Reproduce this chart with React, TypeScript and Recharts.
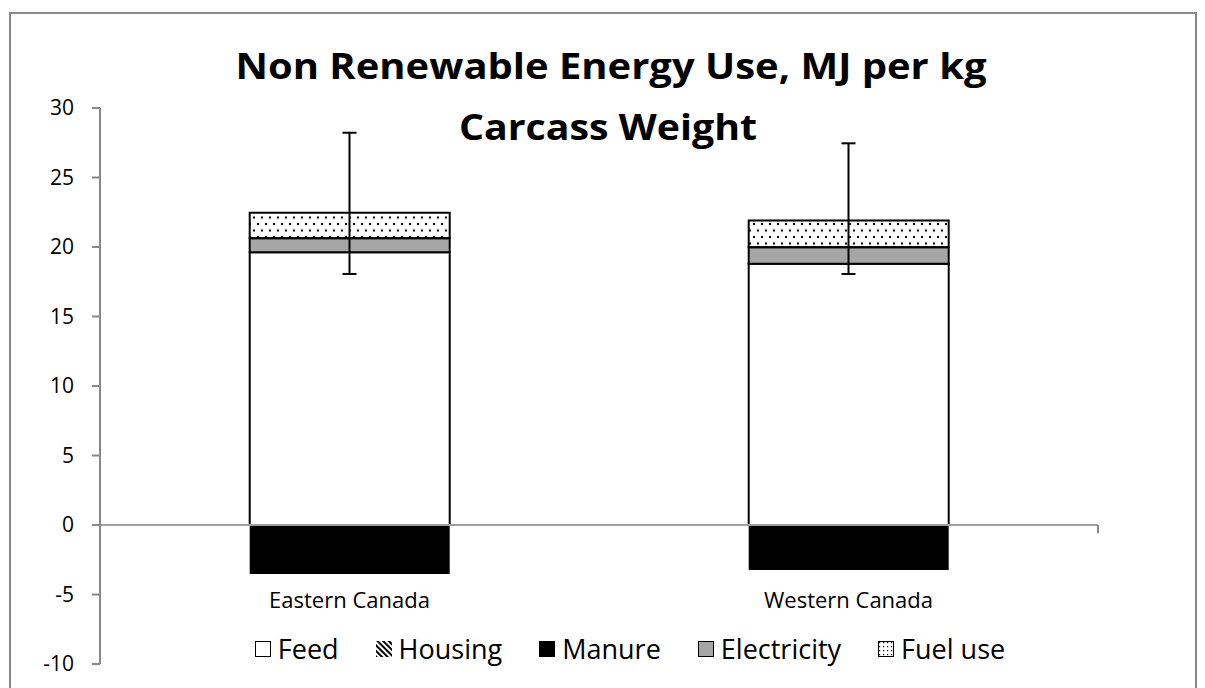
import { ComposedChart, Bar, Line, XAxis, YAxis, ErrorBar, ReferenceLine } from 'recharts';

const categories = ['Eastern Canada', 'Western Canada'];
const feed = [19.62, 18.8];
const housing = [0, 0];
const manure = [-3.53, -3.24];
const electricity = [1.01, 1.18];
const fuelUse = [1.84, 1.92];
const errorLow = [18.06, 18.06];
const errorHigh = [28.22, 27.46];
const yTicks = [-10, -5, 0, 5, 10, 15, 20, 25, 30];
const boundaryTicks = [0, 1, 2];

const data = categories.map((name, i) => {
  const total = feed[i] + housing[i] + electricity[i] + fuelUse[i];
  return {
    name,
    feed: feed[i],
    housing: housing[i],
    manure: manure[i],
    electricity: electricity[i],
    fuelUse: fuelUse[i],
    total,
    err: [total - errorLow[i], errorHigh[i] - total],
  };
});

const legendItems = [
  { label: 'Feed', kind: 'feed' },
  { label: 'Housing', kind: 'housing' },
  { label: 'Manure', kind: 'manure' },
  { label: 'Electricity', kind: 'electricity' },
  { label: 'Fuel use', kind: 'fuel' },
];

const font = '"Open Sans", sans-serif';

function Swatch({ kind }: { kind: string }) {
  const id = 'sw-' + kind;
  return (
    <svg width={16} height={16} style={{ marginRight: 7, flexShrink: 0 }}>
      <defs>
        <pattern id={id + '-dots'} width={4} height={4} patternUnits="userSpaceOnUse">
          <rect x={1} y={1} width={1.2} height={1.2} fill="#000" />
        </pattern>
        <pattern id={id + '-hatch'} width={4} height={4} patternUnits="userSpaceOnUse" patternTransform="rotate(-45)">
          <rect x={0} y={0} width={2} height={4} fill="#000" />
        </pattern>
      </defs>
      {kind === 'feed' && <rect x={0.5} y={0.5} width={15} height={15} fill="#fff" stroke="#000" />}
      {kind === 'housing' && <rect x={0} y={0} width={16} height={16} fill={`url(#${id}-hatch)`} />}
      {kind === 'manure' && <rect x={0} y={0} width={16} height={16} fill="#000" />}
      {kind === 'electricity' && <rect x={0.5} y={0.5} width={15} height={15} fill="#a6a6a6" stroke="#000" />}
      {kind === 'fuel' && <rect x={0.5} y={0.5} width={15} height={15} fill={`url(#${id}-dots)`} stroke="#000" />}
    </svg>
  );
}

function CategoryTick(props: any) {
  const { x, y, payload } = props;
  return (
    <text x={x} y={y - 56} textAnchor="middle" fontSize={22} fontFamily={font} fill="#000">
      {payload.value}
    </text>
  );
}

export default function App() {
  return (
    <div style={{ position: 'absolute', left: 0, top: 0, width: 1205, height: 688, background: '#fff', overflow: 'hidden' }}>
      <div style={{ position: 'absolute', left: 9, top: 12, width: 1184, height: 700, border: '2px solid #898989' }} />
      <ComposedChart
        width={1205}
        height={688}
        data={data}
        stackOffset="sign"
        barCategoryGap="30%"
        margin={{ top: 108, right: 107, bottom: 0, left: 0 }}
        style={{ position: 'absolute', left: 0, top: 0 }}
      >
        <defs>
          <pattern id="fuelDots" width={8} height={13} patternUnits="userSpaceOnUse">
            <rect x={1} y={2} width={2} height={2} fill="#000" />
            <rect x={5} y={8.5} width={2} height={2} fill="#000" />
          </pattern>
        </defs>
        <XAxis dataKey="name" height={24} axisLine={false} tickLine={false} tickSize={0} tickMargin={0} tick={CategoryTick} interval={0} />
        <XAxis xAxisId="num" type="number" domain={[0, 2]} hide height={0} />
        <YAxis
          domain={[-10, 30]}
          ticks={yTicks}
          interval={0}
          width={100}
          axisLine={{ stroke: '#898989', strokeWidth: 2 }}
          tickLine={{ stroke: '#898989', strokeWidth: 2 }}
          tickSize={8}
          tickMargin={18}
          tick={{ fontSize: 21, fontFamily: font, fill: '#000' }}
        />
        <Bar dataKey="feed" stackId="a" fill="#fff" stroke="#000" strokeWidth={2} isAnimationActive={false} />
        <Bar dataKey="housing" stackId="a" fill="#000" isAnimationActive={false} />
        <Bar dataKey="manure" stackId="a" fill="#000" isAnimationActive={false} />
        <Bar dataKey="electricity" stackId="a" fill="#a6a6a6" stroke="#000" strokeWidth={2} isAnimationActive={false} />
        <Bar dataKey="fuelUse" stackId="a" fill="url(#fuelDots)" stroke="#000" strokeWidth={2} isAnimationActive={false} />
        <ReferenceLine y={0} stroke="#a0a0a0" strokeWidth={2} />
        {boundaryTicks.map((t) => (
          <ReferenceLine
            key={t}
            xAxisId="num"
            segment={[{ x: t, y: 0 }, { x: t, y: -0.6 }]}
            stroke="#898989"
            strokeWidth={2}
          />
        ))}
        <Line dataKey="total" stroke="none" dot={false} activeDot={false} legendType="none" isAnimationActive={false}>
          <ErrorBar dataKey="err" width={7} stroke="#000" strokeWidth={2} direction="y" />
        </Line>
      </ComposedChart>
      <svg width={1205} height={688} style={{ position: 'absolute', left: 0, top: 0, pointerEvents: 'none' }}>
        <text x={611} y={79} textAnchor="middle" fontSize={35} fontWeight="bold" fontFamily={font} fill="#000" textLength={751} lengthAdjust="spacingAndGlyphs">
          Non Renewable Energy Use, MJ per kg
        </text>
        <text x={608} y={140} textAnchor="middle" fontSize={35} fontWeight="bold" fontFamily={font} fill="#000" textLength={298} lengthAdjust="spacingAndGlyphs">
          Carcass Weight
        </text>
      </svg>
      <div
        style={{
          position: 'absolute',
          left: 0,
          top: 630,
          width: 1205,
          paddingLeft: 55,
          boxSizing: 'border-box',
          display: 'flex',
          justifyContent: 'center',
          alignItems: 'center',
          gap: 37,
          fontFamily: font,
          fontSize: 27,
          color: '#000',
        }}
      >
        {legendItems.map((it) => (
          <div key={it.label} style={{ display: 'flex', alignItems: 'center', whiteSpace: 'nowrap' }}>
            <Swatch kind={it.kind} />
            <span>{it.label}</span>
          </div>
        ))}
      </div>
    </div>
  );
}
